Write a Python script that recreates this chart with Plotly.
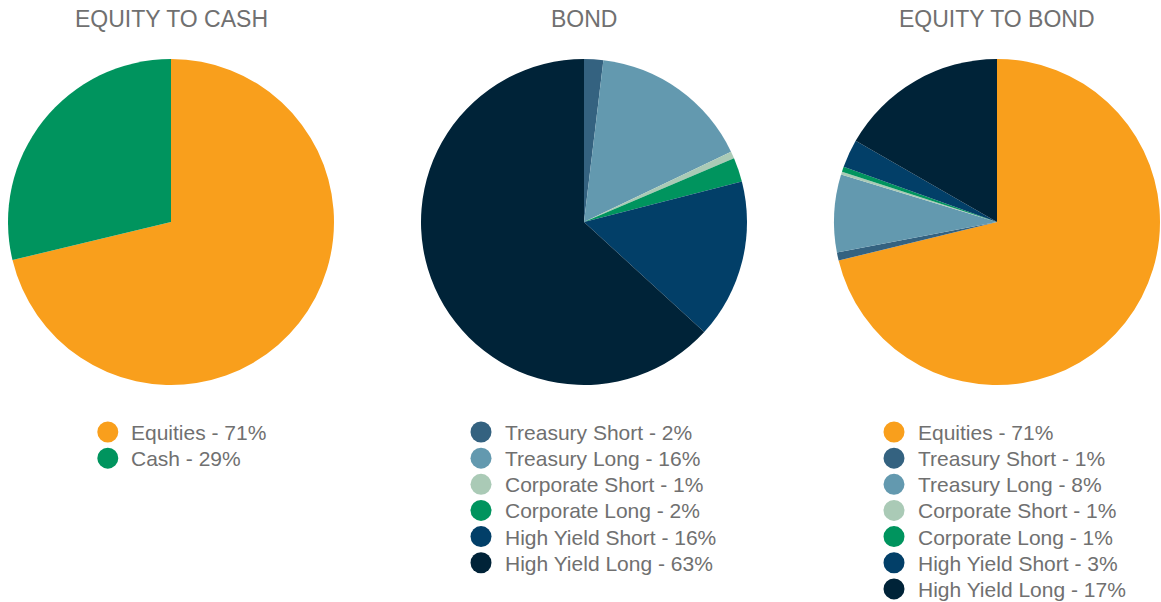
import plotly.graph_objects as go

# ---------------- data ----------------
titles = ["EQUITY TO CASH", "BOND", "EQUITY TO BOND"]

cash_labels = ["Equities", "Cash"]
cash_values = [71.25, 28.75]
cash_pct_text = ["71%", "29%"]

bond_labels = ["Treasury Short", "Treasury Long", "Corporate Short",
               "Corporate Long", "High Yield Short", "High Yield Long"]
bond_values = [1.9, 16.0, 0.7, 2.4, 15.8, 63.2]
bond_pct_text = ["2%", "16%", "1%", "2%", "16%", "63%"]

eqb_labels = ["Equities", "Treasury Short", "Treasury Long", "Corporate Short",
              "Corporate Long", "High Yield Short", "High Yield Long"]
eqb_values = [71.2, 0.8, 7.7, 0.3, 0.5, 2.8, 16.7]
eqb_pct_text = ["71%", "1%", "8%", "1%", "1%", "3%", "17%"]

# ---------------- styles ----------------
COLORS = {
    "Equities": "#F99F1C",
    "Cash": "#00945E",
    "Treasury Short": "#346280",
    "Treasury Long": "#6399AF",
    "Corporate Short": "#AACAB6",
    "Corporate Long": "#00945E",
    "High Yield Short": "#023F68",
    "High Yield Long": "#002338",
}
TEXT_COLOR = "#707070"
FONT = "Liberation Sans, Arial, sans-serif"

W, H = 1161, 602
centers_x = [171, 584, 997]
center_y = 222
radius = 163

legend_circle_x = [107.8, 481, 894]
legend_text_x = [129, 503, 916]
legend_top = 432
legend_step = 26.15
circle_r = 10.5
title_y = 19

groups = [
    (cash_labels, cash_values, cash_pct_text),
    (bond_labels, bond_values, bond_pct_text),
    (eqb_labels, eqb_values, eqb_pct_text),
]

fig = go.Figure()
shapes = []
annotations = []

for i, (labels, values, pcts) in enumerate(groups):
    cx = centers_x[i]
    fig.add_trace(go.Pie(
        labels=labels,
        values=values,
        sort=False,
        direction="clockwise",
        rotation=0,
        textinfo="none",
        hoverinfo="label+percent",
        marker=dict(colors=[COLORS[l] for l in labels], line=dict(width=0)),
        showlegend=False,
        domain=dict(
            x=[(cx - radius) / W, (cx + radius) / W],
            y=[1 - (center_y + radius) / H, 1 - (center_y - radius) / H],
        ),
    ))
    # title
    annotations.append(dict(
        text=titles[i], x=cx / W, y=1 - title_y / H, xref="paper", yref="paper",
        xanchor="center", yanchor="middle", showarrow=False,
        font=dict(family=FONT, size=23, color=TEXT_COLOR),
    ))
    # legend
    for j, (lab, pct) in enumerate(zip(labels, pcts)):
        yc = legend_top + j * legend_step
        lx = legend_circle_x[i]
        shapes.append(dict(
            type="circle", xref="paper", yref="paper",
            x0=(lx - circle_r) / W, x1=(lx + circle_r) / W,
            y0=1 - (yc + circle_r) / H, y1=1 - (yc - circle_r) / H,
            fillcolor=COLORS[lab], line=dict(width=0),
        ))
        annotations.append(dict(
            text=f"{lab} - {pct}", x=legend_text_x[i] / W, y=1 - (yc + 0.5) / H,
            xref="paper", yref="paper", xanchor="left", yanchor="middle",
            showarrow=False,
            font=dict(family=FONT, size=21, color=TEXT_COLOR),
        ))

fig.update_layout(
    width=W, height=H,
    margin=dict(l=0, r=0, t=0, b=0),
    paper_bgcolor="white",
    plot_bgcolor="white",
    shapes=shapes,
    annotations=annotations,
    showlegend=False,
)

fig.write_html(
    "out.html",
    config={"responsive": False, "displayModeBar": False},
    post_script="document.body.style.margin='0';document.body.style.overflow='hidden';",
)
